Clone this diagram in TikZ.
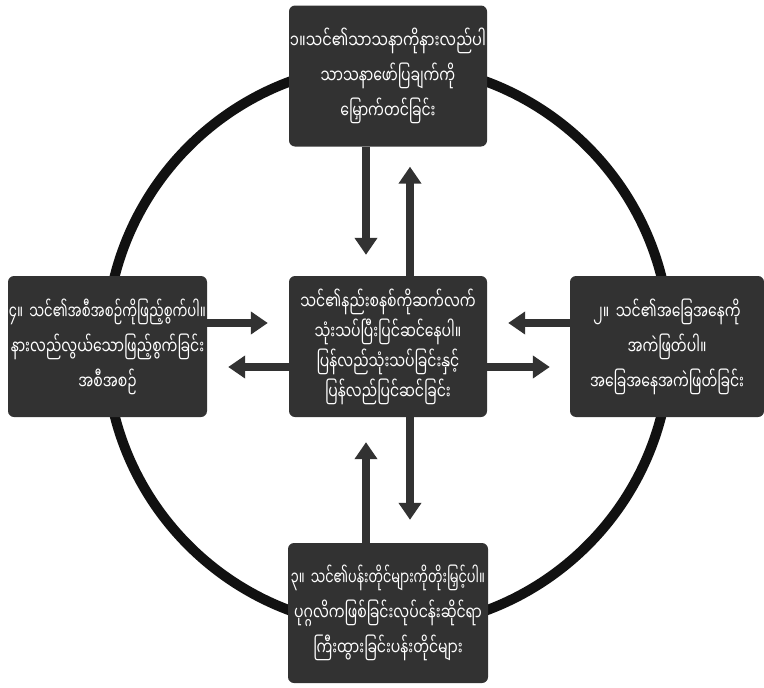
\documentclass[tikz,border=0pt]{standalone}
\usepackage{fontspec}
\newfontfamily\mya[Script=Myanmar,FakeStretch=0.72]{Noto Sans Myanmar UI}
\usetikzlibrary{arrows.meta}
\definecolor{boxgray}{HTML}{323232}
\definecolor{ringblack}{HTML}{111111}
\newcommand\fitline[2]{\resizebox{#1}{\height}{#2}}
\tikzset{
  stepbox/.style={draw=none, fill=boxgray, rounded corners=6pt, text=white,
    inner sep=0pt, align=center, text width=198pt, minimum height=141pt,
    font=\mya\fontsize{19.5}{35}\selectfont},
  arr/.style={draw=boxgray, line width=8pt,
    -{Triangle[width=22pt,length=17pt]}, shorten >=0pt},
  ring/.style={draw=ringblack, line width=10pt}
}
\begin{document}
\begin{tikzpicture}[x=1pt,y=-1pt]
\useasboundingbox (0,0) rectangle (764,688);
\coordinate (O) at (388,346);
\draw[ring] (O) circle[radius=282pt];
\node[stepbox] (T) at (388,76) {\fitline{196pt}{၁။သင်၏သာသနာကိုနားလည်ပါ}\\သာသနာဖော်ပြချက်ကို\\မြှောက်တင်ခြင်း};
\node[stepbox, font=\mya\fontsize{19.5}{30}\selectfont] (C) at (388,346.5) {သင်၏နည်းစနစ်ကိုဆက်လက်\\သုံးသပ်ပြီးပြင်ဆင်နေပါ။\\ပြန်လည်သုံးသပ်ခြင်းနှင့်\\ပြန်လည်ပြင်ဆင်ခြင်း};
\node[stepbox, text width=199pt] (L) at (107.5,346.5) {\fitline{197pt}{၄။~သင်၏အစီအစဉ်ကိုဖြည့်စွက်ပါ။}\\နားလည်လွယ်သောဖြည့်စွက်ခြင်း\\အစီအစဉ်};
\node[stepbox, text width=194pt] (R) at (667,346.5) {၂။~သင်၏အခြေအနေကို\\အကဲဖြတ်ပါ။\\အခြေအနေအကဲဖြတ်ခြင်း};
\node[stepbox, text width=200pt, minimum height=140pt] (B) at (388,613) {\fitline{194pt}{၃။~သင်၏ပန်းတိုင်များကိုတိုးမြှင့်ပါ။}\\ပုဂ္ဂလိကဖြစ်ခြင်းလုပ်ငန်းဆိုင်ရာ\\ကြီးထွားခြင်းပန်းတိုင်များ};
% vertical arrows
\draw[arr] ([xshift=-22pt]T.south) -- ([xshift=-22pt,yshift=21pt]C.north);
\draw[arr] ([xshift=22pt]C.north) -- ([xshift=22pt,yshift=-20pt]T.south);
\draw[arr] ([xshift=-22pt]B.north) -- ([xshift=-22pt,yshift=-25pt]C.south);
\draw[arr] ([xshift=22pt]C.south) -- ([xshift=22pt,yshift=23pt]B.north);
% horizontal arrows
\draw[arr] ([yshift=23.5pt]L.east) -- ([xshift=-21pt,yshift=23.5pt]C.west);
\draw[arr] ([yshift=-20.5pt]C.west) -- ([xshift=21pt,yshift=-20.5pt]L.east);
\draw[arr] ([yshift=23.5pt]R.west) -- ([xshift=21pt,yshift=23.5pt]C.east);
\draw[arr] ([yshift=-20.5pt]C.east) -- ([xshift=-20pt,yshift=-20.5pt]R.west);
\end{tikzpicture}
\end{document}
